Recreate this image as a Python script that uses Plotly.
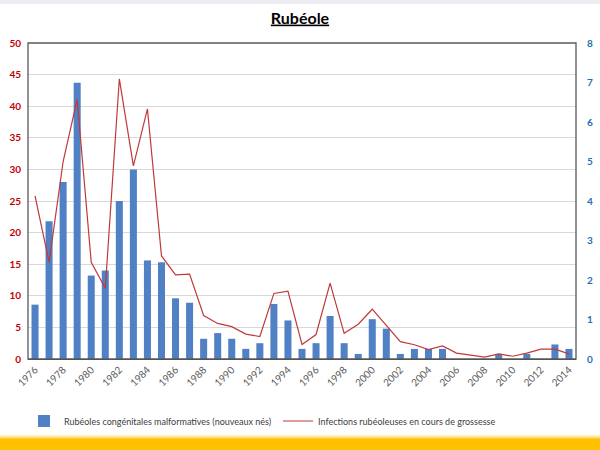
import plotly.graph_objects as go

years = list(range(1976, 2015))
congenital = [8.6, 21.8, 28, 43.7, 13.2, 14, 25, 30, 15.6, 15.3,
              9.6, 8.9, 3.2, 4.1, 3.2, 1.6, 2.5, 8.7, 6.1, 1.6,
              2.5, 6.8, 2.5, 0.8, 6.3, 4.8, 0.8, 1.6, 1.6, 1.6,
              0, 0, 0, 0.8, 0, 0.8, 0, 2.3, 1.6]
infections = [4.13, 2.45, 5.0, 6.57, 2.45, 1.79, 7.09, 4.89, 6.33, 2.61,
              2.13, 2.15, 1.10, 0.90, 0.82, 0.63, 0.57, 1.66, 1.72, 0.37,
              0.62, 1.92, 0.65, 0.88, 1.26, 0.84, 0.44, 0.36, 0.24, 0.33,
              0.15, 0.10, 0.05, 0.13, 0.07, 0.15, 0.25, 0.25, 0.13]
xlabels = [str(y) for y in years]
tick_show = [str(y) for y in years if (y - 1976) % 2 == 0]

font = "Lato, 'Open Sans', sans-serif"
PW, PH, L, T = 548, 316, 28, 43

def px(x):
    return (x - L) / PW

def py(y):
    return (T + PH - y) / PH

fig = go.Figure()
fig.add_trace(go.Bar(x=xlabels, y=congenital, name="Rubéoles congénitales malformatives (nouveaux nés)",
                     marker=dict(color="#4F81C4", line=dict(width=0)), yaxis="y", legend="legend"))
fig.add_trace(go.Scatter(x=xlabels, y=infections, name="Infections rubéoleuses en cours de grossesse",
                         mode="lines", line=dict(color="#C0393B", width=1.2), yaxis="y2", legend="legend2"))

shapes = [
    dict(type="rect", xref="paper", yref="paper", x0=0, x1=1, y0=0, y1=1,
         line=dict(color="#595959", width=1.3), fillcolor="rgba(0,0,0,0)", layer="above"),
]
W0, W1 = px(0), px(600)
shapes.append(dict(type="rect", xref="paper", yref="paper", x0=W0, x1=W1, y0=py(450), y1=py(439),
                   fillcolor="#FFC000", line=dict(width=0), layer="below"))
for i, a in enumerate([0.8, 0.55, 0.35, 0.18, 0.08]):
    shapes.append(dict(type="rect", xref="paper", yref="paper", x0=W0, x1=W1,
                       y0=py(439 - i), y1=py(438 - i),
                       fillcolor=f"rgba(255,192,0,{a})", line=dict(width=0), layer="below"))
shapes.append(dict(type="rect", xref="paper", yref="paper", x0=W0, x1=W1, y0=py(4), y1=py(0),
                   fillcolor="rgba(225,225,235,0.6)", line=dict(width=0), layer="below"))

legfont = dict(size=9, color="#404040", family=font)
fig.update_layout(
    width=600, height=450,
    margin=dict(l=L, r=600 - L - PW, t=T, b=450 - T - PH, autoexpand=False),
    paper_bgcolor="white", plot_bgcolor="white",
    font=dict(family=font),
    title=dict(text="<b><u>Rubéole</u></b>", x=0.5, xanchor="center", y=1 - 18 / 450, yanchor="middle",
               font=dict(size=16, color="#000000", family=font)),
    bargap=0.5,
    showlegend=True,
    legend=dict(orientation="h", x=px(24), xanchor="left", y=py(421), yanchor="middle",
                font=legfont, bgcolor="rgba(0,0,0,0)", itemwidth=30),
    legend2=dict(orientation="h", x=px(278), xanchor="left", y=py(421), yanchor="middle",
                 font=legfont, bgcolor="rgba(0,0,0,0)", itemwidth=30),
    xaxis=dict(type="category", tickmode="array", tickvals=tick_show, ticktext=tick_show,
               tickangle=-45, tickfont=dict(size=10, color="#595959"), automargin=False,
               showgrid=False, showline=True, linecolor="#404040", linewidth=1.3,
               ticks="", range=[-0.5, len(years) - 0.5]),
    yaxis=dict(range=[0, 50], dtick=5, tickfont=dict(size=10, color="#C00000", weight="bold"),
               showgrid=True, gridcolor="#D9D9D9", gridwidth=1, zeroline=False, automargin=False,
               ticklabelstandoff=6, showline=False),
    yaxis2=dict(range=[0, 8], dtick=1, overlaying="y", side="right", automargin=False,
                tickfont=dict(size=10, color="#1F6FB0", weight="bold"),
                showgrid=False, zeroline=False, ticklabelstandoff=10, showline=False),
    shapes=shapes,
)

fig.write_html("out.html")
